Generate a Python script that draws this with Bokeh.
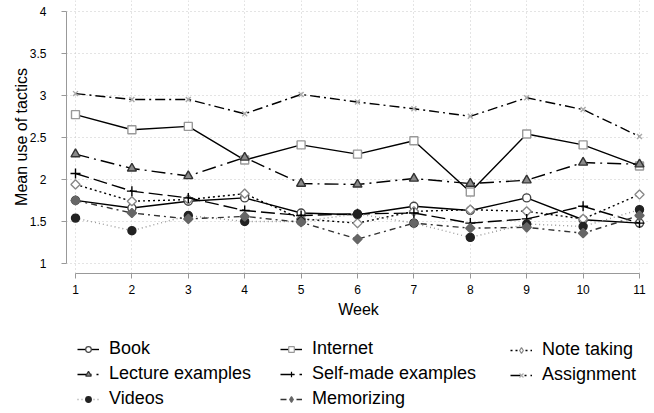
import numpy as np
from bokeh.plotting import figure
from bokeh.layouts import column
from bokeh.models import Range1d, FixedTicker, Legend, LegendItem
from bokeh.embed import file_html
from bokeh.resources import INLINE

weeks = [1, 2, 3, 4, 5, 6, 7, 8, 9, 10, 11]
book = [1.75, 1.66, 1.74, 1.78, 1.60, 1.58, 1.68, 1.63, 1.78, 1.52, 1.48]
internet = [2.77, 2.59, 2.63, 2.23, 2.41, 2.30, 2.46, 1.85, 2.54, 2.41, 2.16]
note_taking = [1.94, 1.74, 1.76, 1.83, 1.53, 1.48, 1.62, 1.64, 1.62, 1.53, 1.82]
lecture = [2.30, 2.13, 2.04, 2.26, 1.95, 1.94, 2.01, 1.95, 1.99, 2.20, 2.18]
selfmade = [2.07, 1.86, 1.78, 1.63, 1.57, 1.59, 1.60, 1.48, 1.53, 1.68, 1.48]
assignment = [3.02, 2.95, 2.95, 2.78, 3.01, 2.92, 2.84, 2.75, 2.97, 2.83, 2.51]
videos = [1.54, 1.39, 1.57, 1.50, 1.50, 1.59, 1.48, 1.31, 1.47, 1.44, 1.64]
memorizing = [1.75, 1.60, 1.53, 1.56, 1.49, 1.29, 1.48, 1.42, 1.43, 1.36, 1.57]

y_ticks = [1, 1.5, 2, 2.5, 3, 3.5, 4]
y_tick_labels = ["1", "1.5", "2", "2.5", "3", "3.5", "4"]
x_title = "Week"
y_title = "Mean use of tactics"

FONT = "Liberation Sans"
W = 654

p = figure(width=W, height=330, output_backend="svg", toolbar_location=None,
           x_range=Range1d(0.8404, 11.195), y_range=Range1d(0.881, 4.127),
           min_border_left=66, min_border_right=4, min_border_top=0,
           min_border_bottom=57)
p.outline_line_color = None

for g in (p.xgrid, p.ygrid):
    g.grid_line_color = "#c8c8c8"
    g.grid_line_dash = "1 3"
    g.grid_line_width = 1
p.xaxis.ticker = FixedTicker(ticks=weeks)
p.yaxis.ticker = FixedTicker(ticks=y_ticks)
p.yaxis.major_label_overrides = {t: l for t, l in zip(y_ticks, y_tick_labels)}

for ax in (p.xaxis, p.yaxis):
    ax.axis_line_color = "#999999"
    ax.major_tick_line_color = "#999999"
    ax.major_tick_out = 5
    ax.major_tick_in = 0
    ax.minor_tick_line_color = None
    ax.major_label_text_font = FONT
    ax.major_label_text_font_size = "12px"
    ax.major_label_text_color = "black"
    ax.axis_label_text_font = FONT
    ax.axis_label_text_font_size = "16px"
    ax.axis_label_text_font_style = "normal"
    ax.axis_label_text_color = "black"
p.xaxis.bounds = (1, 11)
p.yaxis.bounds = (1, 4)
p.xaxis.axis_label = x_title
p.yaxis.axis_label = y_title
p.xaxis.major_label_standoff = 6
p.xaxis.axis_label_standoff = 4
p.yaxis.major_label_standoff = 15
p.yaxis.axis_label_standoff = -3
p.yaxis.major_label_orientation = "horizontal"

series = [
    # name, data, line color, dash, marker, size, mk line, mk fill, angle, legend marker
    ("Book", book, "black", "solid", "circle", 8, "#444444", "white", 0, "circle"),
    ("Internet", internet, "black", "solid", "square", 8, "#999999", "white", 0, "square"),
    ("Note taking", note_taking, "black", "2 3", "square", 6.5, "#888888", "white", np.pi / 4, "diamond"),
    ("Lecture examples", lecture, "black", "14 5 2 5", "triangle", 9, "#333333", "#8a8a8a", 0, "triangle"),
    ("Self-made examples", selfmade, "black", "14 5", "cross", 10, "black", "black", 0, "cross"),
    ("Assignment", assignment, "black", "10 4 2 4", "x", 7, "#aaaaaa", "#aaaaaa", 0, "x"),
    ("Videos", videos, "#999999", "1 3", "circle", 8, "#222222", "#222222", 0, "circle"),
    ("Memorizing", memorizing, "#333333", "6 4 2 4", "square", 6.5, "#666666", "#666666", np.pi / 4, "diamond"),
]

# legend figure (same series drawn off-screen, only the legend shows)
lf = figure(width=W, height=83, output_backend="svg", toolbar_location=None,
            x_range=Range1d(100, 101), y_range=Range1d(100, 101),
            x_axis_location=None, y_axis_location=None,
            min_border_left=0, min_border_right=0, min_border_top=0, min_border_bottom=0)
lf.outline_line_color = None
lf.xgrid.visible = False
lf.ygrid.visible = False

items = {}
for name, data, lc, dash, mk, sz, mlc, mfc, ang, lmk in series:
    p.line(weeks, data, line_color=lc, line_width=1.4, line_dash=dash)
    p.scatter(weeks, data, marker=mk, size=sz, line_color=mlc, fill_color=mfc,
              line_width=1.4, angle=ang)
    lsz = sz * 0.75 if lmk != "diamond" else sz * 1.0
    lr = lf.line(weeks, data, line_color=lc, line_width=1.4, line_dash=dash)
    sr = lf.scatter(weeks, data, marker=lmk, size=lsz, line_color=mlc, fill_color=mfc,
                    line_width=1.2)
    items[name] = LegendItem(label=name, renderers=[lr, sr])

cols = [
    (["Book", "Lecture examples", "Videos"], 11),
    (["Internet", "Self-made examples", "Memorizing"], 214),
    (["Note taking", "Assignment"], 444),
]
row_h = 20
sp = 4
top = 11
for names, x in cols:
    n = len(names)
    h = n * row_h + (n - 1) * sp
    leg = Legend(items=[items[nm] for nm in names], location=(x, 83 - top - h),
                 orientation="vertical", spacing=sp, padding=0, margin=0,
                 glyph_width=22, glyph_height=14, label_height=row_h,
                 label_standoff=10, border_line_color=None,
                 background_fill_alpha=0, label_text_font=FONT,
                 label_text_font_size="18px", label_text_color="black")
    lf.add_layout(leg, "center")

open("out.html", "w").write(file_html(column(p, lf, spacing=0), INLINE))
